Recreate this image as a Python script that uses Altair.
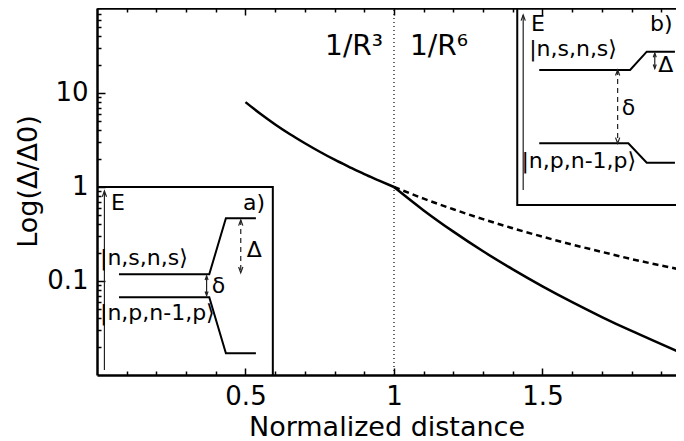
import altair as alt
import pandas as pd

FONT = "DejaVu Sans"
W, H = 579, 367
X_DOMAIN = [0.0, 1.9495]
Y_DOMAIN = [0.01, 80.2]

# ---- curves, values ----
r3_x = [0.5, 0.55, 0.6, 0.65, 0.7, 0.75, 0.8, 0.85, 0.9, 0.95, 1.0]
r3_y = [8.0, 6.01, 4.63, 3.64, 2.92, 2.37, 1.95, 1.63, 1.37, 1.17, 1.0]
r6_x = [1.0, 1.1, 1.2, 1.3, 1.4, 1.5, 1.6, 1.7, 1.8, 1.9, 1.976]
r6_y = [1.0, 0.564, 0.335, 0.207, 0.133, 0.0878, 0.0596, 0.0414, 0.0294, 0.0213, 0.0167]
dash_x = [1.0, 1.1, 1.2, 1.3, 1.4, 1.5, 1.6, 1.7, 1.8, 1.9, 1.976]
dash_y = [1.0, 0.751, 0.579, 0.455, 0.364, 0.296, 0.244, 0.204, 0.171, 0.146, 0.130]

# ---- tick values ----
x_major = [0.5, 1.0, 1.5]
x_minor = [0.1, 0.2, 0.3, 0.4, 0.6, 0.7, 0.8, 0.9, 1.1, 1.2, 1.3, 1.4, 1.6, 1.7, 1.8, 1.9]
y_major = [0.1, 1, 10]
y_minor = [0.02, 0.03, 0.04, 0.05, 0.06, 0.07, 0.08, 0.09,
           0.2, 0.3, 0.4, 0.5, 0.6, 0.7, 0.8, 0.9,
           2, 3, 4, 5, 6, 7, 8, 9, 20, 30, 40, 50, 60, 70, 80]

# ---- regime divider ----
divider_x = [1.0, 1.0]
divider_y = [0.01, 80.2]

# ---- inset diagrams (data units) ----
poly_seg = (["a_frame"] * 3 + ["a_up"] * 4 + ["a_low"] * 4 +
            ["b_frame"] * 3 + ["b_up"] * 4 + ["b_low"] * 4)
poly_x = [0.0, 0.592, 0.592,
          0.074, 0.378, 0.434, 0.535,
          0.074, 0.378, 0.434, 0.535,
          1.415, 1.415, 1.976,
          1.489, 1.795, 1.851, 1.946,
          1.489, 1.789, 1.851, 1.946]
poly_y = [1.0, 1.0, 0.01,
          0.118, 0.118, 0.465, 0.465,
          0.0671, 0.0671, 0.0170, 0.0170,
          80.2, 0.643, 0.643,
          17.6, 17.6, 27.5, 27.5,
          2.917, 2.917, 1.813, 1.813]

solid_arrow_seg = ["aE", "aE", "bE", "bE", "ad", "ad", "bD", "bD"]
solid_arrow_x = [0.025, 0.025, 1.435, 1.435, 0.369, 0.369, 1.878, 1.878]
solid_arrow_y = [0.0113, 0.906, 0.929, 67.6, 0.113, 0.0700, 26.5, 18.2]

dash_arrow_seg = ["aD", "aD", "bd", "bd"]
dash_arrow_x = [0.484, 0.484, 1.753, 1.753]
dash_arrow_y = [0.446, 0.1226, 17.6, 2.917]

UP = "M-0.6,1.6L0,0L0.6,1.6"
DOWN = "M-0.6,-1.6L0,0L0.6,-1.6"
head_x = [0.025, 1.435, 0.484, 0.484, 1.753, 1.753, 0.369, 0.369, 1.878, 1.878]
head_y = [0.906, 67.6, 0.446, 0.1226, 17.6, 2.917, 0.113, 0.0700, 26.5, 18.2]
head_shape = [UP, UP, UP, DOWN, UP, DOWN, UP, DOWN, UP, DOWN]
head_size = [50, 50, 50, 50, 50, 50, 25, 25, 25, 25]

label_text = ["1/R³", "1/R⁶",
              "E", "a)", "|n,s,n,s⟩", "|n,p,n-1,p⟩", "δ", "Δ",
              "E", "b)", "|n,s,n,s⟩", "|n,p,n-1,p⟩", "δ", "Δ"]
label_x = [0.768, 1.054,
           0.047, 0.492, 0.010, 0.010, 0.386, 0.504,
           1.461, 1.862, 1.455, 1.429, 1.767, 1.890]
label_y = [25.4, 25.4,
           0.569, 0.569, 0.148, 0.0385, 0.074, 0.1787,
           45.7, 45.7, 24.7, 1.59, 5.83, 16.9]
label_size = [28, 28,
              22, 22, 22, 22, 22, 22,
              22, 22, 22, 22, 22, 22]

# ---- tables ----
curves = pd.DataFrame({
    "x": r3_x + r6_x, "y": r3_y + r6_y,
    "g": ["r3"] * len(r3_x) + ["r6"] * len(r6_x)})
dashed = pd.DataFrame({"x": dash_x, "y": dash_y})
divider = pd.DataFrame({"x": divider_x, "y": divider_y})
polys = pd.DataFrame({"x": poly_x, "y": poly_y, "seg": poly_seg, "o": list(range(len(poly_x)))})
sarrows = pd.DataFrame({"x": solid_arrow_x, "y": solid_arrow_y, "seg": solid_arrow_seg})
darrows = pd.DataFrame({"x": dash_arrow_x, "y": dash_arrow_y, "seg": dash_arrow_seg})
heads = pd.DataFrame({"x": head_x, "y": head_y, "shape": head_shape, "size": head_size})
labels = pd.DataFrame({"x": label_x, "y": label_y, "t": label_text, "s": label_size})

xs = alt.Scale(domain=X_DOMAIN, nice=False, zero=False)
ys = alt.Scale(type="log", domain=Y_DOMAIN, nice=False)

tick_common = dict(labels=False, domain=False, title=None, grid=False,
                   tickColor="black", tickWidth=1.5, ticks=True)

ax_x_lab = alt.Axis(orient="bottom", values=x_major, format="~g", ticks=False, tickSize=0,
                    domain=True, domainColor="black", domainWidth=2.5,
                    labelFont=FONT, labelFontSize=26, labelColor="black",
                    labelPadding=8, labelFlush=False,
                    title="Normalized distance", titleFont=FONT, titleFontSize=27,
                    titleFontWeight="normal", titleColor="black",
                    titleY=60, titleBaseline="alphabetic", grid=False)
ax_y_lab = alt.Axis(orient="left", values=y_major, format="~g", ticks=False, tickSize=0,
                    domain=True, domainColor="black", domainWidth=2.5,
                    labelFont=FONT, labelFontSize=26, labelColor="black",
                    labelPadding=9, labelFlush=False,
                    title="Log(Δ/Δ0)", titleFont=FONT, titleFontSize=27,
                    titleFontWeight="normal", titleColor="black",
                    titleX=-61, titleY=173, titleAngle=270, titleAlign="center",
                    titleBaseline="alphabetic", grid=False)
ax_x_bot_major = alt.Axis(orient="top", offset=-H, values=x_major, tickSize=7, **tick_common)
ax_x_bot_minor = alt.Axis(orient="top", offset=-H, values=x_minor, tickSize=4, **tick_common)
ax_x_top_major = alt.Axis(orient="bottom", offset=-H, values=x_major, tickSize=7,
                          labels=False, title=None, grid=False, ticks=True,
                          tickColor="black", tickWidth=1.5,
                          domain=True, domainColor="black", domainWidth=2.5)
ax_x_top_minor = alt.Axis(orient="bottom", offset=-H, values=x_minor, tickSize=4, **tick_common)
ax_y_major = alt.Axis(orient="right", offset=-W, values=y_major, tickSize=8, **tick_common)
ax_y_minor = alt.Axis(orient="right", offset=-W, values=y_minor, tickSize=4, **tick_common)


def X(axis):
    return alt.X("x:Q", scale=xs, axis=axis)


def Y(axis):
    return alt.Y("y:Q", scale=ys, axis=axis)


l_curves = alt.Chart(curves).mark_line(color="black", strokeWidth=2.5, interpolate="monotone",
                                       clip=True).encode(
    x=X(ax_x_lab), y=Y(ax_y_lab), detail="g:N")
l_dashed = alt.Chart(dashed).mark_line(color="black", strokeWidth=2.5, strokeDash=[6, 4],
                                       interpolate="monotone", clip=True).encode(
    x=X(ax_x_bot_major), y=Y(ax_y_major))
l_divider = alt.Chart(divider).mark_line(color="black", strokeWidth=1.2, strokeDash=[1, 3]).encode(
    x=X(ax_x_bot_minor), y=Y(ax_y_minor))
l_polys = alt.Chart(polys).mark_line(color="black", strokeWidth=2, clip=True).encode(
    x=X(ax_x_top_major), y=Y(None), detail="seg:N", order="o:Q")
l_sarrows = alt.Chart(sarrows).mark_line(color="#222222", strokeWidth=1.2).encode(
    x=X(ax_x_top_minor), y=Y(None), detail="seg:N")
l_darrows = alt.Chart(darrows).mark_line(color="#222222", strokeWidth=1.2, strokeDash=[5, 4]).encode(
    x=X(None), y=Y(None), detail="seg:N")
l_heads = alt.Chart(heads).mark_point(filled=False, color="#222222", strokeWidth=1.2, opacity=1).encode(
    x=X(None), y=Y(None),
    shape=alt.Shape("shape:N", scale=None),
    size=alt.Size("size:Q", scale=None))
l_text = alt.Chart(labels).mark_text(align="left", baseline="alphabetic", font=FONT,
                                     color="black").encode(
    x=X(None), y=Y(None), text="t:N", size=alt.Size("s:Q", scale=None))

chart = alt.layer(l_curves, l_dashed, l_divider, l_polys, l_sarrows, l_darrows, l_heads, l_text
                  ).resolve_axis(x="independent", y="independent").properties(
    width=W, height=H,
    padding={"left": 89, "top": 0, "right": 0, "bottom": 66},
    autosize=alt.AutoSizeParams(type="none"),
    background="white",
).configure_view(strokeWidth=0).configure_axis(grid=False)

chart.save("out.html", embed_options={"renderer": "svg", "actions": False})
